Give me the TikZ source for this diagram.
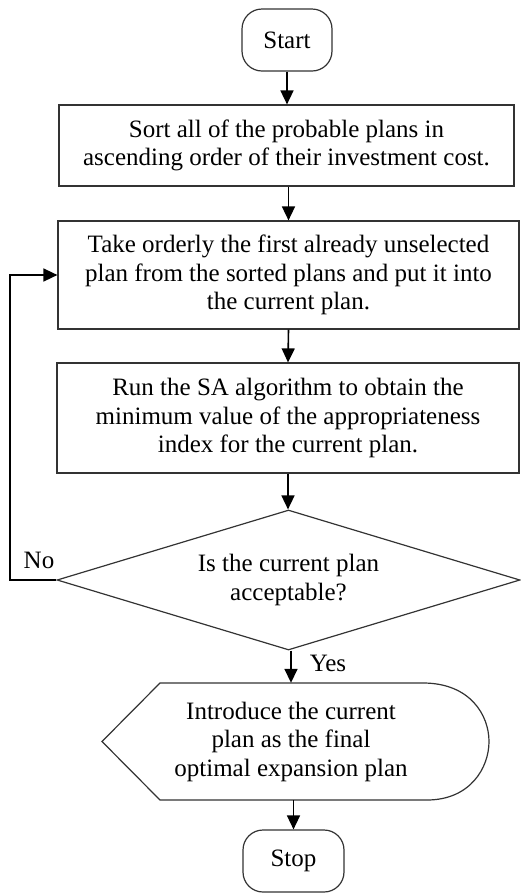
\documentclass[tikz,border=0pt]{standalone}
\usepackage{fontspec}
\setmainfont{Liberation Serif}
\usetikzlibrary{arrows.meta,shapes.geometric}
\tikzset{
  flowbox/.style={draw=black!80, line width=1.2pt, align=center, inner sep=0pt},
  termbox/.style={flowbox, rounded corners=20pt},
  flowarrow/.style={draw=black, line width=1.6pt, -{Triangle[width=13pt,length=14pt]}},
}
\begin{document}
\begin{tikzpicture}[x=1pt,y=-1pt,font=\fontsize{25}{28.5}\selectfont]
  \useasboundingbox (0,0) rectangle (520,895);
  \node[termbox, minimum width=90pt, minimum height=62pt] (start) at (287,40) {Start};
  \node[flowbox, minimum width=455pt, minimum height=81pt] (sort) at (286.5,145.5)
    {Sort all of the probable plans in\\ascending order of their investment cost.};
  \node[flowbox, minimum width=461pt, minimum height=108pt] (take) at (288.5,275)
    {Take orderly the first already unselected\\plan from the sorted plans and put it into\\the current plan.};
  \node[flowbox, minimum width=462pt, minimum height=110pt] (run) at (288,418)
    {Run the SA algorithm to obtain the\\minimum value of the appropriateness\\index for the current plan.};
  \node[flowbox, shape=diamond, aspect=3.3, minimum width=463pt, minimum height=140pt] (check) at (288.5,580)
    {Is the current plan\\acceptable?};
  \node[align=center, inner sep=0pt, minimum width=378pt, minimum height=117pt] (intro) at (291,741.5)
    {Introduce the current\\plan as the final\\optimal expansion plan};
  \node[termbox, minimum width=101pt, minimum height=62pt] (stop) at (293.5,861) {Stop};
  \node (nolabel) at (39,560) {No};
  \node (yeslabel) at (328,663) {Yes};
  \coordinate (loop) at (10,580);
  % display shape round the last step
  \draw[draw=black!80, line width=1.2pt] (102,741.5) -- (160,683) -- (423,683)
    .. controls (470,683) and (489,715) .. (489,741.5)
    .. controls (489,768) and (470,800) .. (427,800) -- (160,800) -- cycle;
  \draw[flowarrow] (start.south) -- (start.south |- sort.north);
  \draw[flowarrow] (sort.south -| take.north) -- (take.north);
  \draw[flowarrow] (take.south) -- (run.north);
  \draw[flowarrow] (run.south) -- (run.south |- check.north);
  \draw[flowarrow] (check.south -| intro.north) -- (intro.north);
  \draw[flowarrow] (intro.south -| stop.north) -- (stop.north);
  \draw[flowarrow] (check.west) -- (loop) |- (take.west);
\end{tikzpicture}
\end{document}
